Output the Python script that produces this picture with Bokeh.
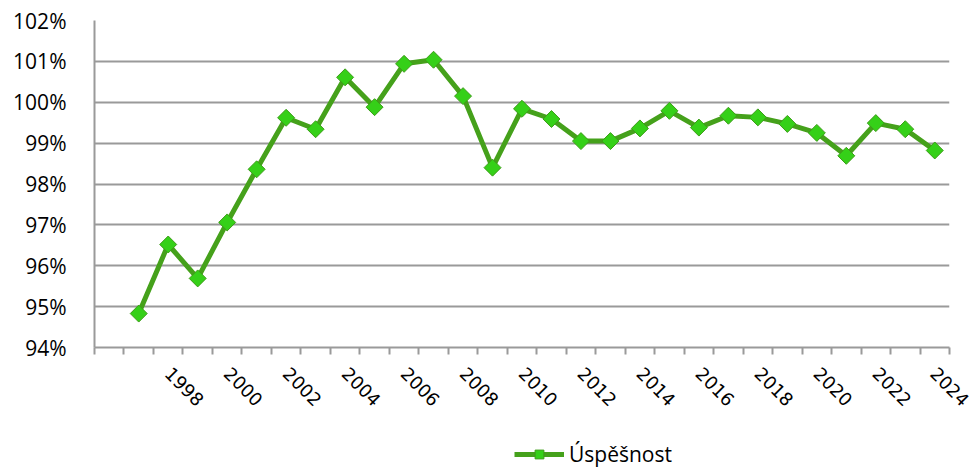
import math
from bokeh.plotting import figure
from bokeh.layouts import column
from bokeh.models import (FixedTicker, PrintfTickFormatter, Legend, LegendItem,
                          ColumnDataSource, Range1d)
from bokeh.embed import file_html
from bokeh.resources import INLINE

# ---- data ----
years = list(range(1997, 2025))
success = [94.83, 96.52, 95.69, 97.06, 98.36, 99.62, 99.34, 100.61, 99.88,
           100.94, 101.04, 100.15, 98.40, 99.84, 99.59, 99.05, 99.05, 99.36,
           99.79, 99.38, 99.67, 99.63, 99.47, 99.25, 98.69, 99.49, 99.34, 98.82]
y_ticks = [94, 95, 96, 97, 98, 99, 100, 101, 102]
label_years = list(range(1998, 2025, 2))
first_category = 1996
last_category = 2024
series_name = "Úspěšnost"

category_edges = [y - 0.5 for y in range(first_category, last_category + 2)]

LINE = "#45a11b"
FILL = "#35d018"
EDGE = "#3c9c18"
GRID = "#9a9a9a"

src = ColumnDataSource(dict(x=years, y=success))

# ---- main chart ----
p = figure(width=970, height=430, output_backend="svg", toolbar_location=None,
           x_range=Range1d(first_category - 0.5, last_category + 0.5),
           y_range=Range1d(y_ticks[0], y_ticks[-1]),
           min_border_left=94, min_border_right=21, min_border_top=20,
           min_border_bottom=83)
p.outline_line_color = None
p.background_fill_color = "white"
p.border_fill_color = "white"

p.xaxis.ticker = FixedTicker(ticks=label_years, minor_ticks=category_edges)
p.xaxis.formatter = PrintfTickFormatter(format="%d")
p.xaxis.major_tick_line_color = None
p.xaxis.minor_tick_line_color = GRID
p.xaxis.minor_tick_line_width = 2
p.xaxis.minor_tick_in = 0
p.xaxis.minor_tick_out = 7
p.xaxis.major_tick_out = 7
p.xaxis.axis_line_color = GRID
p.xaxis.axis_line_width = 2
p.xaxis.major_label_orientation = -math.pi / 4
p.xaxis.major_label_text_font = "DejaVu Sans"
p.xaxis.major_label_text_font_size = "18px"
p.xaxis.major_label_text_color = "black"
p.xaxis.major_label_standoff = 16
p.xgrid.grid_line_color = None

p.yaxis.ticker = FixedTicker(ticks=y_ticks, minor_ticks=[])
p.yaxis.formatter = PrintfTickFormatter(format="%d%%")
p.yaxis.major_tick_line_color = None
p.yaxis.minor_tick_line_color = None
p.yaxis.axis_line_color = GRID
p.yaxis.axis_line_width = 2
p.yaxis.major_label_text_font = "Open Sans"
p.yaxis.major_label_text_font_size = "21px"
p.yaxis.major_label_text_color = "black"
p.yaxis.major_label_standoff = 22
p.ygrid.grid_line_color = GRID
p.ygrid.grid_line_width = 2

p.line("x", "y", source=src, line_color=LINE, line_width=5)
p.scatter("x", "y", source=src, marker="square", angle=math.pi / 4,
          size=12, fill_color=FILL, line_color=EDGE, line_width=1)

# ---- legend strip below the chart ----
leg = figure(width=970, height=38, output_backend="svg", toolbar_location=None,
             x_range=Range1d(0, 1), y_range=Range1d(0, 1),
             x_axis_location=None, y_axis_location=None,
             min_border_left=0, min_border_right=0, min_border_top=0,
             min_border_bottom=0)
leg.outline_line_color = None
leg.grid.visible = False
leg.background_fill_color = "white"
leg.border_fill_color = "white"
l_line = leg.line("x", "y", source=src, line_color=LINE, line_width=5)
l_pts = leg.scatter("x", "y", source=src, marker="square", angle=math.pi / 4,
                    size=12, fill_color=FILL, line_color=EDGE, line_width=1)

legend = Legend(items=[LegendItem(label=series_name, renderers=[l_line, l_pts])],
                location=(420, 0), orientation="horizontal",
                glyph_width=50, glyph_height=22, label_standoff=5,
                label_height=22,
                padding=0, margin=0, border_line_color=None,
                background_fill_alpha=0,
                label_text_font="Open Sans", label_text_font_size="21px",
                label_text_color="black")
leg.add_layout(legend, "center")

layout = column(p, leg, spacing=0)
open("out.html", "w").write(file_html(layout, INLINE))
